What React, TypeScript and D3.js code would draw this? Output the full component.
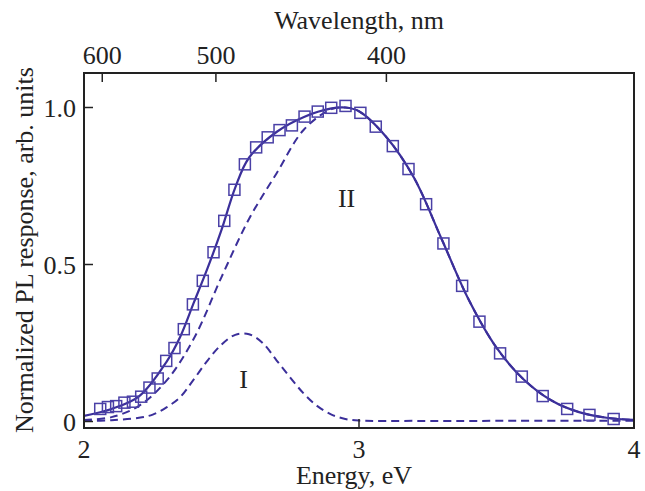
import React from "react";
import * as d3 from "d3";

// measured points (squares)
const markerEnergy = [2.059, 2.087, 2.117, 2.147, 2.178, 2.208, 2.238, 2.268, 2.299, 2.329, 2.363, 2.396, 2.432, 2.471, 2.51, 2.547, 2.585, 2.626, 2.668, 2.711, 2.756, 2.802, 2.85, 2.899, 2.951, 3.005, 3.061, 3.123, 3.18, 3.244, 3.307, 3.375, 3.438, 3.513, 3.592, 3.668, 3.757, 3.838, 3.926];
const markerValue = [0.04, 0.046, 0.049, 0.06, 0.063, 0.079, 0.108, 0.137, 0.193, 0.234, 0.294, 0.373, 0.448, 0.539, 0.639, 0.738, 0.819, 0.873, 0.905, 0.928, 0.943, 0.971, 0.987, 0.999, 1.005, 0.983, 0.939, 0.877, 0.804, 0.692, 0.567, 0.432, 0.318, 0.217, 0.143, 0.081, 0.04, 0.021, 0.008];

// total fit (solid)
const fitEnergy = [2.0, 2.1, 2.2, 2.3, 2.35, 2.4, 2.45, 2.5, 2.55, 2.6, 2.7, 2.8, 2.9, 2.95, 3.0, 3.1, 3.2, 3.3, 3.4, 3.5, 3.6, 3.7, 3.8, 3.9, 4.0];
const fitValue = [0.018, 0.04, 0.08, 0.19, 0.27, 0.38, 0.49, 0.61, 0.745, 0.84, 0.922, 0.97, 0.997, 1.0, 0.988, 0.905, 0.776, 0.582, 0.386, 0.235, 0.133, 0.067, 0.03, 0.012, 0.005];

// component II (dashed)
const bandIIEnergy = [2.0, 2.1, 2.2, 2.3, 2.4, 2.5, 2.6, 2.7, 2.8, 2.9, 2.95, 3.0, 3.1, 3.2, 3.3, 3.4, 3.5, 3.6, 3.7, 3.8, 3.9, 4.0];
const bandIIValue = [0.005, 0.014, 0.05, 0.13, 0.265, 0.46, 0.645, 0.79, 0.93, 0.995, 1.0, 0.988, 0.905, 0.776, 0.582, 0.386, 0.235, 0.133, 0.067, 0.03, 0.012, 0.005];

// component I (dashed)
const bandIEnergy = [2.0, 2.1, 2.2, 2.25, 2.3, 2.35, 2.4, 2.45, 2.5, 2.55, 2.6, 2.65, 2.7, 2.75, 2.8, 2.85, 2.9, 2.95, 3.0, 3.2, 3.5, 4.0];
const bandIValue = [0.002, 0.004, 0.012, 0.022, 0.045, 0.078, 0.135, 0.195, 0.245, 0.276, 0.278, 0.25, 0.195, 0.14, 0.088, 0.048, 0.022, 0.008, 0.003, 0.002, 0.002, 0.002];

const energyTicks = [2, 3, 4];
const valueTicks = [0, 0.5, 1.0];
const valueTickLabels = ["0", "0.5", "1.0"];
const wavelengthTicks = [600, 500, 400];

const FONT = "'Liberation Serif', 'Times New Roman', serif";
const INK = "#222";
const BLUE = "#3b2f9a";

export default function App() {
  const left = 84, right = 634, top = 73, bottom = 428;

  const x = d3.scaleLinear().domain([2, 4]).range([left, right]);
  const y = d3.scaleLinear().domain([0, 1]).range([421.5, 107.5]);

  const line = d3
    .line<[number, number]>()
    .x((d) => x(d[0]))
    .y((d) => y(d[1]))
    .curve(d3.curveCatmullRom.alpha(0.5));

  const zip = (a: number[], b: number[]) => a.map((v, i) => [v, b[i]] as [number, number]);

  const tick = 9;
  const sq = 11;

  return (
    <svg
      width={645}
      height={491}
      style={{ position: "absolute", left: 0, top: 0, display: "block" }}
      fontFamily={FONT}
    >
      <defs>
        <clipPath id="plot">
          <rect x={left} y={top} width={right - left} height={bottom - top} />
        </clipPath>
      </defs>

      <g clipPath="url(#plot)">
        <path d={line(zip(bandIEnergy, bandIValue)) || ""} fill="none" stroke={BLUE} strokeWidth={2} strokeDasharray="8,5" />
        <path d={line(zip(bandIIEnergy, bandIIValue)) || ""} fill="none" stroke={BLUE} strokeWidth={2} strokeDasharray="8,5" />
        <path d={line(zip(fitEnergy, fitValue)) || ""} fill="none" stroke={BLUE} strokeWidth={2.2} />
        {markerEnergy.map((e, i) => (
          <rect key={i} x={x(e) - sq / 2} y={y(markerValue[i]) - sq / 2} width={sq} height={sq} fill="none" stroke="#4a40a6" strokeWidth={1.5} />
        ))}
      </g>

      <rect x={left} y={top} width={right - left} height={bottom - top} fill="none" stroke={INK} strokeWidth={2} />

      {energyTicks.map((t) => (
        <g key={t}>
          <line x1={x(t)} x2={x(t)} y1={bottom} y2={bottom - tick} stroke={INK} strokeWidth={1.5} />
          <text x={x(t)} y={458} textAnchor="middle" fontSize={26} fill={INK}>{t}</text>
        </g>
      ))}

      {valueTicks.map((t, i) => (
        <g key={t}>
          <line x1={left} x2={left + tick} y1={y(t)} y2={y(t)} stroke={INK} strokeWidth={1.5} />
          <text x={76} y={y(t) + 9} textAnchor="end" fontSize={26} fill={INK}>{valueTickLabels[i]}</text>
        </g>
      ))}

      {wavelengthTicks.map((w) => (
        <g key={w}>
          <line x1={x(1239.84 / w)} x2={x(1239.84 / w)} y1={top} y2={top + tick} stroke={INK} strokeWidth={1.5} />
          <text x={x(1239.84 / w)} y={64} textAnchor="middle" fontSize={26} fill={INK}>{w}</text>
        </g>
      ))}

      <text x={359} y={29} textAnchor="middle" fontSize={26} fill={INK}>Wavelength, nm</text>
      <text x={354} y={484} textAnchor="middle" fontSize={26} fill={INK}>Energy, eV</text>
      <text transform="translate(33,250) rotate(-90)" textAnchor="middle" fontSize={26} fill={INK}>
        Normalized PL response, arb. units
      </text>

      <text x={x(2.58)} y={388} textAnchor="middle" fontSize={26} fill={INK}>I</text>
      <text x={x(2.955)} y={207} textAnchor="middle" fontSize={26} fill={INK}>II</text>
    </svg>
  );
}
